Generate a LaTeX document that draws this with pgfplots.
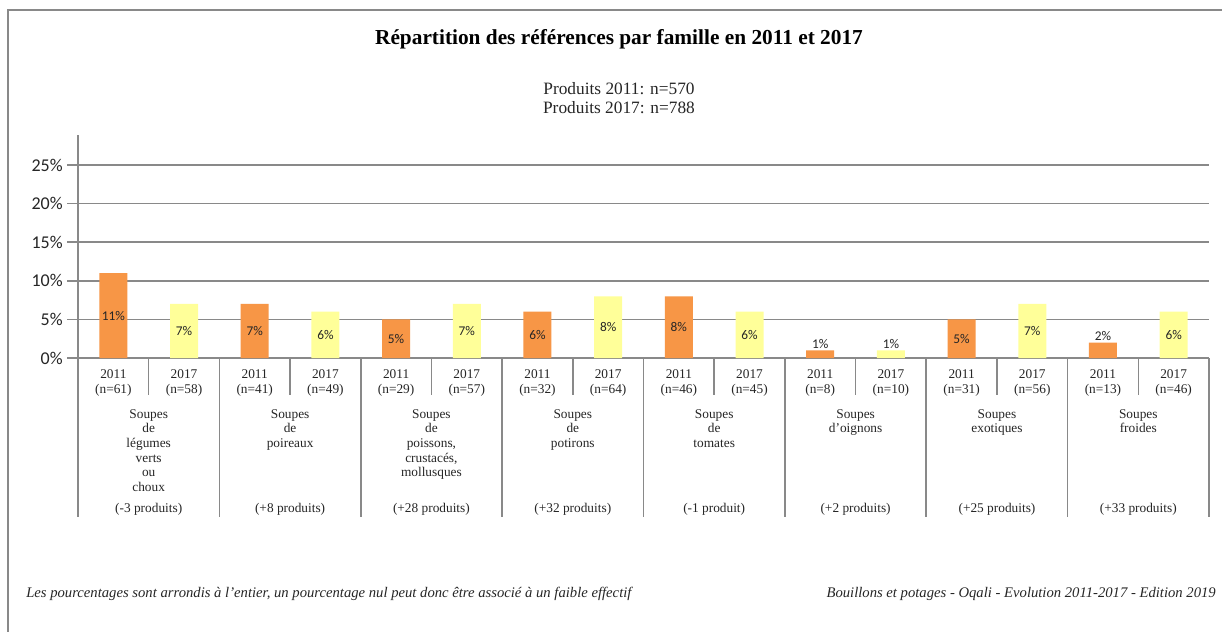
\documentclass[border=0pt]{standalone}
\usepackage{fontspec}
\setmainfont{Liberation Serif}
\newfontfamily\calibri{Carlito}
\usepackage{pgfplots}
\pgfplotsset{compat=1.18}
\definecolor{barA}{HTML}{F79646}
\definecolor{barB}{HTML}{FFFF99}
\definecolor{gridc}{HTML}{898989}
\definecolor{txt}{HTML}{262626}
\begin{document}
\begin{tikzpicture}[x=0.75pt,y=-0.75pt]
\useasboundingbox (0,0) rectangle (1222,632);
\fill[white] (0,0) rectangle (1222,632);
\draw[gridc, line width=1.5pt] (8,640) -- (8,10) -- (1230,10);
\begin{axis}[
  at={(58.5pt,-268.5pt)}, anchor=south west,
  scale only axis, width=848.25pt, height=167.25pt,
  xmin=-0.5, xmax=15.5, ymin=0, ymax=28.9,
  axis lines*=left,
  axis line style={gridc, line width=1.2pt, -},
  ytick={0,5,...,25},
  ymajorgrids, grid style={gridc, line width=1.2pt},
  tick align=outside, major tick length=8pt,
  ytick style={gridc, line width=1.2pt},
  xtick={0,...,15}, xtick style={draw=none},
  xticklabels={{2011\\(n=61)},{2017\\(n=58)},{2011\\(n=41)},{2017\\(n=49)},{2011\\(n=29)},{2017\\(n=57)},{2011\\(n=32)},{2017\\(n=64)},{2011\\(n=46)},{2017\\(n=45)},{2011\\(n=8)},{2017\\(n=10)},{2011\\(n=31)},{2017\\(n=56)},{2011\\(n=13)},{2017\\(n=46)}},
  xticklabel style={align=center, anchor=north, yshift=2.5pt, text=txt, font=\fontsize{10}{11.25}\selectfont},
  yticklabel={\pgfmathprintnumber{\tick}\%},
  yticklabel style={font=\calibri\fontsize{13.5}{14}\selectfont, text=txt},
  /pgf/number format/assume math mode=true,
  clip=false,
]
\addplot[ybar, bar width=21pt, bar shift=0pt, fill=barA, draw=none] coordinates {
  (0,11) (2,7) (4,5) (6,6) (8,8) (10,1) (12,5) (14,2)};
\addplot[ybar, bar width=21pt, bar shift=0pt, fill=barB, draw=none] coordinates {
  (1,7) (3,6) (5,7) (7,8) (9,6) (11,1) (13,7) (15,6)};
\addplot[draw=none, mark=none, nodes near coords, point meta=explicit symbolic,
  nodes near coords align=center,
  every node near coord/.style={font=\calibri\fontsize{10}{12}\selectfont, text=txt, inner sep=0pt}]
  coordinates {
  (0,5.5)[11\%] (1,3.5)[7\%] (2,3.5)[7\%] (3,3)[6\%] (4,2.5)[5\%] (5,3.5)[7\%]
  (6,3)[6\%] (7,4)[8\%] (8,4)[8\%] (9,3)[6\%] (10,1.85)[1\%] (11,1.85)[1\%]
  (12,2.5)[5\%] (13,3.5)[7\%] (14,2.8)[2\%] (15,3)[6\%]};
\end{axis}
\foreach \k in {0,...,8} \draw[gridc, line width=1.2pt] (78+141.375*\k,358) -- (78+141.375*\k,517);
\foreach \k in {0,...,7} \draw[gridc, line width=1.2pt] (78+141.375*\k+70.6875,358) -- (78+141.375*\k+70.6875,395);
\begin{scope}[every node/.style={align=center, text=txt, inner sep=0pt, font=\fontsize{10}{11}\selectfont}]
\node[anchor=north] at (148.7,409) {Soupes\\de\\légumes\\verts\\ou\\choux};
\node[anchor=north] at (290.1,409) {Soupes\\de\\poireaux};
\node[anchor=north] at (431.4,409) {Soupes\\de\\poissons,\\crustacés,\\mollusques};
\node[anchor=north] at (572.8,409) {Soupes\\de\\potirons};
\node[anchor=north] at (714.2,409) {Soupes\\de\\tomates};
\node[anchor=north] at (855.6,409) {Soupes\\d'oignons};
\node[anchor=north] at (997.0,409) {Soupes\\exotiques};
\node[anchor=north] at (1138.3,409) {Soupes\\froides};
\node at (148.7,509) {(-3 produits)};
\node at (290.1,509) {(+8 produits)};
\node at (431.4,509) {(+28 produits)};
\node at (572.8,509) {(+32 produits)};
\node at (714.2,509) {(-1 produit)};
\node at (855.6,509) {(+2 produits)};
\node at (997.0,509) {(+25 produits)};
\node at (1138.3,509) {(+33 produits)};
\end{scope}
\node[font=\bfseries\fontsize{16}{18}\selectfont, text=black] at (619,39) {Répartition des références par famille en 2011 et 2017};
\node[align=center, text=txt, font=\fontsize{13}{14.25}\selectfont] at (619,98.5) {Produits 2011: n=570\\Produits 2017: n=788};
\node[anchor=west, text=txt, inner sep=0pt, font=\itshape\fontsize{11}{12}\selectfont] at (26,594) {Les pourcentages sont arrondis à l'entier, un pourcentage nul peut donc être associé à un faible effectif};
\node[anchor=east, text=txt, inner sep=0pt, font=\itshape\fontsize{11}{12}\selectfont] at (1216,594) {Bouillons et potages - Oqali - Evolution 2011-2017 - Edition 2019};
\end{tikzpicture}
\end{document}
